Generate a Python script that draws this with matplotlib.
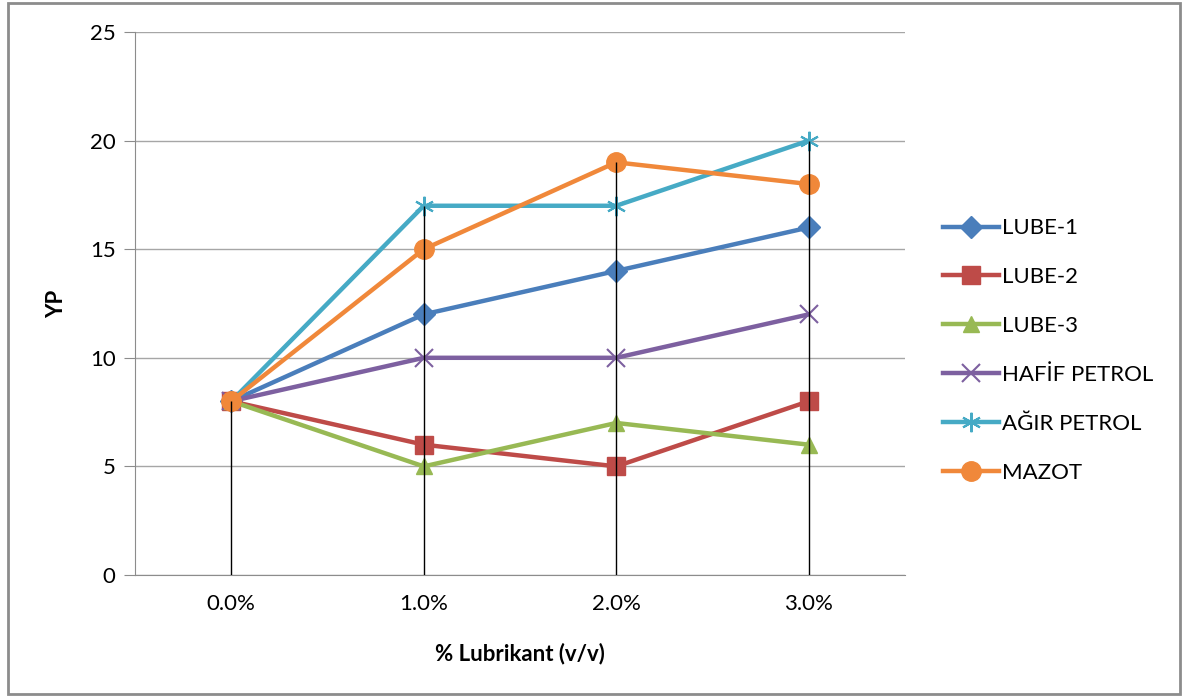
import matplotlib
matplotlib.use("Agg")
import matplotlib.pyplot as plt
from matplotlib.patches import Rectangle

plt.rcParams['font.family'] = ['Lato', 'DejaVu Sans']

# data
categories = ['0.0%', '1.0%', '2.0%', '3.0%']
lube1 = [8, 12, 14, 16]
lube2 = [8, 6, 5, 8]
lube3 = [8, 5, 7, 6]
hafif = [8, 10, 10, 12]
agir = [8, 17, 17, 20]
mazot = [8, 15, 19, 18]
names = ['LUBE-1', 'LUBE-2', 'LUBE-3', 'HAFİF PETROL', 'AĞIR PETROL', 'MAZOT']
series = [lube1, lube2, lube3, hafif, agir, mazot]

colors = ['#4A7EBB', '#BE4B48', '#98B954', '#7D60A0', '#46AAC5', '#F0883A']
markers = ['D', 's', '^', 'x', (6, 2, 0), 'o']
msizes = [11, 13, 12, 13, 14, 14]

fig = plt.figure(figsize=(11.84, 6.97), dpi=100)
ax = fig.add_axes([135/1184, 1-575/697, 770/1184, 543/697])

x = range(len(categories))
for vals, name, c, m, ms in zip(series, names, colors, markers, msizes):
    if m in ('x', (6, 2, 0)):
        ax.plot(x, vals, color=c, lw=3.2, marker=m, markersize=ms,
                markeredgewidth=1.5, label=name, zorder=3)
    else:
        ax.plot(x, vals, color=c, lw=3.2, marker=m, markersize=ms,
                markeredgecolor=c, label=name, zorder=3)

# drop lines
tops = [max(v) for v in zip(*series)]
ax.vlines(x, 0, tops, color='black', lw=1, zorder=5)

ax.set_xlim(-0.5, 3.5)
ax.set_ylim(0, 25)
ax.set_yticks([0, 5, 10, 15, 20, 25])
ax.set_xticks(list(x))
ax.set_xticklabels(categories)
ax.tick_params(axis='y', length=8, color='#8c8c8c', labelsize=16, pad=6)
ax.tick_params(axis='x', length=0, labelsize=16, pad=14)
ax.grid(axis='y', color='#a6a6a6', lw=1)
ax.set_axisbelow(True)
for s in ['top', 'right']:
    ax.spines[s].set_visible(False)
for s in ['left', 'bottom']:
    ax.spines[s].set_color('#8c8c8c')
ax.set_ylabel('YP', fontsize=16, fontweight='bold', labelpad=16)
ax.set_xlabel('% Lubrikant (v/v)', fontsize=16, fontweight='bold', labelpad=20)

leg = fig.legend(loc='center left', bbox_to_anchor=(943/1184, 0.497), frameon=False,
                 fontsize=16, handlelength=2.5, labelspacing=1.3, handletextpad=0.15,
                 borderpad=0, borderaxespad=0)

fig.patches.append(Rectangle((8/1184, 3/697), 1172/1184, 691/697, transform=fig.transFigure,
                             fill=False, edgecolor='#8c8c8c', lw=2))

fig.savefig('out.png', dpi=100)
